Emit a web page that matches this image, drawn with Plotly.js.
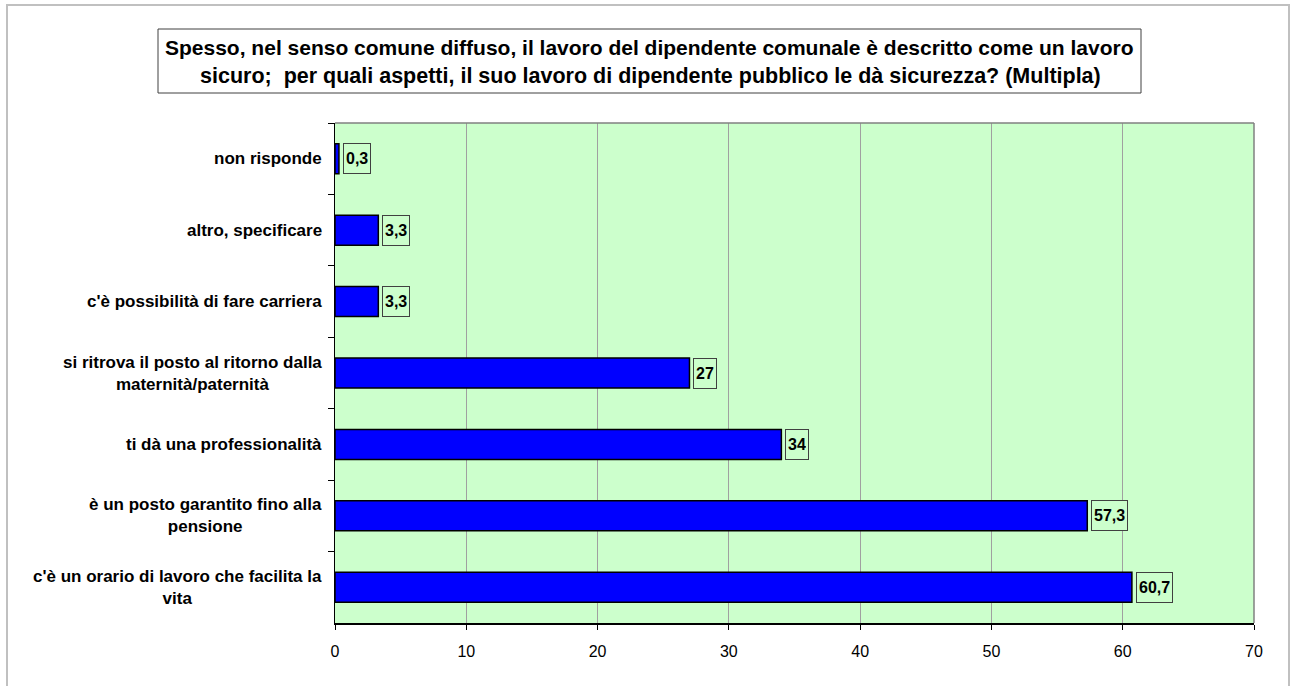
<!DOCTYPE html>
<html>
<head>
<meta charset="utf-8">
<script src="https://cdn.plot.ly/plotly-3.0.1.min.js"></script>
<style>
  body { margin: 0; background: #fff; }
  #wrap { position: relative; width: 1293px; height: 686px; overflow: hidden; }
  #frame { position: absolute; left: 6px; top: 4px; width: 1280px; height: 720px;
           border: 2px solid #c0c0c0; pointer-events: none; }
</style>
</head>
<body>
<div id="wrap">
  <div id="graph" style="width:1293px;height:686px;"></div>
  <div id="frame"></div>
</div>
<script>
// answers, top to bottom as they appear in the chart
var categories = [
    "non risponde",
    "altro, specificare",
    "c'è possibilità di fare carriera",
    "si ritrova il posto al ritorno dalla<br>maternità/paternità",
    "ti dà una professionalità",
    "è un posto garantito fino alla<br>pensione",
    "c'è un orario di lavoro che facilita la<br>vita"
];
// percentages
var values = [0.3, 3.3, 3.3, 27, 34, 57.3, 60.7];
var xTicks = [0, 10, 20, 30, 40, 50, 60, 70];
var titleLine1 = "Spesso, nel senso comune diffuso, il lavoro del dipendente comunale è descritto come un lavoro";
var titleLine2 = "sicuro;\u00A0 per quali aspetti, il suo lavoro di dipendente pubblico le dà sicurezza? (Multipla)";

drawGraph();

function drawGraph()
{
    // plot area in pixels
    var left = 335, right = 1254, top = 123, bottom = 623;
    function px(x) { return (x - left) / (right - left); }
    function py(y) { return (bottom - y) / (bottom - top); }

    var font = "Liberation Sans, Arial, sans-serif";

    var bars = {
        type: "bar",
        orientation: "h",
        x: values,
        y: categories,
        width: 0.42,
        marker: { color: "#0000ff", line: { color: "#000000", width: 1.5 } },
        hoverinfo: "none"
    };

    var notes = [];
    // category labels, centred lines, right edge next to the axis
    for (var i = 0; i < categories.length; i++) {
        notes.push({
            xref: "paper", x: 0, xanchor: "right", xshift: -11,
            yref: "y", y: categories[i], yanchor: "middle",
            text: categories[i], align: "center", showarrow: false,
            font: { family: font, size: 17, color: "#000", weight: 700 }
        });
        // value labels in a little box
        notes.push({
            xref: "x", x: values[i], xanchor: "left", xshift: 4,
            yref: "y", y: categories[i], yanchor: "middle",
            text: String(values[i]).replace(".", ","), showarrow: false,
            bgcolor: "#ccffcc", bordercolor: "#404040", borderwidth: 1, borderpad: 2,
            height: 25,
            font: { family: font, size: 16, color: "#000", weight: 700 }
        });
    }
    // title lines
    notes.push({
        xref: "paper", x: px(649.5), xanchor: "center",
        yref: "paper", y: py(47), yanchor: "middle",
        text: titleLine1, showarrow: false,
        font: { family: font, size: 21, color: "#000", weight: 700 }
    });
    notes.push({
        xref: "paper", x: px(650), xanchor: "center",
        yref: "paper", y: py(76), yanchor: "middle",
        text: titleLine2, showarrow: false,
        font: { family: font, size: 21.5, color: "#000", weight: 700 }
    });

    var layout = {
        width: 1293,
        height: 686,
        margin: { l: left, r: 1293 - right, t: top, b: 686 - bottom, pad: 0 },
        paper_bgcolor: "#ffffff",
        plot_bgcolor: "#ccffcc",
        showlegend: false,
        xaxis: {
            range: [0, 70],
            tickvals: xTicks,
            showgrid: true,
            gridcolor: "#a0a0a0",
            gridwidth: 1,
            zeroline: false,
            showline: true,
            linecolor: "#000",
            linewidth: 1.5,
            ticks: "outside",
            ticklen: 5,
            tickcolor: "#000",
            ticklabelstandoff: 8,
            tickfont: { family: font, size: 16, color: "#000" }
        },
        yaxis: {
            type: "category",
            autorange: "reversed",
            showticklabels: false,
            showgrid: false,
            zeroline: false,
            showline: true,
            linecolor: "#000",
            linewidth: 1.5,
            ticks: "outside",
            tickson: "boundaries",
            ticklen: 6,
            tickcolor: "#000"
        },
        shapes: [
            // title box
            { type: "rect", xref: "paper", yref: "paper",
              x0: px(158), x1: px(1141), y0: py(93), y1: py(29),
              line: { color: "#404040", width: 1 }, fillcolor: "rgba(0,0,0,0)" },
            // plot frame top and right
            { type: "line", xref: "paper", yref: "paper", x0: 0, x1: 1, y0: 1, y1: 1,
              line: { color: "#808080", width: 1.5 } },
            { type: "line", xref: "paper", yref: "paper", x0: 1, x1: 1, y0: 0, y1: 1,
              line: { color: "#808080", width: 1.5 } }
        ],
        annotations: notes
    };

    Plotly.newPlot("graph", [bars], layout, { displayModeBar: false, staticPlot: true });
}
</script>
</body>
</html>
